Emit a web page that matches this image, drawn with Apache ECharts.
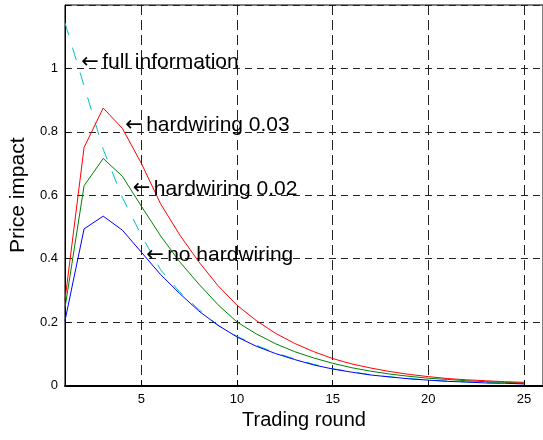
<!DOCTYPE html>
<html>
<head>
<meta charset="utf-8">
<script src="https://cdn.jsdelivr.net/npm/echarts@6/dist/echarts.min.js"></script>
<style>
  html, body { margin: 0; padding: 0; background: #fff; }
  #chart { width: 543px; height: 440px; }
</style>
</head>
<body>
<div id="chart"></div>
<script>
// Trading rounds on the horizontal axis
const rounds = [1, 2, 3, 4, 5, 6, 7, 8, 9, 10, 11, 12, 13, 14, 15, 16, 17, 18, 19, 20, 21, 22, 23, 24, 25];

// Price impact per round for each scenario
const noHardwiring = [0.204, 0.494, 0.534, 0.490, 0.420, 0.350, 0.290, 0.235, 0.190, 0.153, 0.124, 0.101, 0.082, 0.065, 0.052, 0.042, 0.033, 0.027, 0.021, 0.017, 0.013, 0.011, 0.008, 0.007, 0.005];
const hardwiring02 = [0.244, 0.630, 0.716, 0.660, 0.565, 0.472, 0.390, 0.320, 0.255, 0.200, 0.163, 0.132, 0.107, 0.087, 0.070, 0.056, 0.045, 0.036, 0.029, 0.023, 0.019, 0.015, 0.012, 0.010, 0.008];
const hardwiring03 = [0.269, 0.751, 0.875, 0.811, 0.700, 0.573, 0.475, 0.390, 0.315, 0.253, 0.205, 0.165, 0.133, 0.107, 0.085, 0.068, 0.055, 0.044, 0.035, 0.028, 0.022, 0.018, 0.015, 0.012, 0.010];
const fullInformation = [1.144, 0.945, 0.745, 0.593, 0.473, 0.365, 0.295, 0.240, 0.190, 0.155, 0.127, 0.103, 0.084, 0.067, 0.053, 0.043, 0.034, 0.027, 0.022, 0.017, 0.014, 0.011, 0.009, 0.007, 0.006];

// Tick values
const xTicks = [5, 10, 15, 20, 25];
const yTicks = [0, 0.2, 0.4, 0.6, 0.8, 1];

// Callout texts and the points their arrows point at
const calloutTexts = ['full information', 'hardwiring 0.03', 'hardwiring 0.02', 'no hardwiring'];
const calloutX = [1.85, 4.15, 4.55, 5.25];
const calloutY = [1.02, 0.82, 0.62, 0.41];

const FONT = 'Liberation Sans, Arial, Helvetica, sans-serif';
const pair = (xs, ys) => xs.map((x, i) => [x, ys[i]]);

const lineSeries = (name, values, color, dash) => ({
  name,
  type: 'line',
  data: pair(rounds, values),
  showSymbol: false,
  symbol: 'none',
  smooth: false,
  lineStyle: { color, width: 1, type: dash || 'solid' },
  emphasis: { disabled: true },
  animation: false,
  z: 3
});

const chart = echarts.init(document.getElementById('chart'), null, { renderer: 'canvas' });

chart.setOption({
  animation: false,
  backgroundColor: '#ffffff',
  grid: {
    left: 63, top: 5, right: -3, bottom: 54.5,
    show: true, borderColor: '#000', borderWidth: 1, backgroundColor: 'transparent'
  },
  xAxis: {
    type: 'value',
    min: 1, max: 26,
    name: 'Trading round',
    nameLocation: 'middle',
    nameGap: 24,
    nameTextStyle: { fontFamily: FONT, fontSize: 20, color: '#000' },
    axisLine: { show: true, onZero: false, lineStyle: { color: '#000', width: 2 } },
    axisTick: { show: true, inside: true, length: 5, customValues: xTicks, lineStyle: { color: '#000' } },
    axisLabel: { customValues: xTicks, fontFamily: FONT, fontSize: 13, color: '#000', margin: 7 },
    splitLine: { show: true, lineStyle: { color: '#222', width: 1, type: [10, 5] } }
  },
  yAxis: {
    type: 'value',
    min: 0, max: 1.2, interval: 0.2,
    name: 'Price impact',
    nameLocation: 'middle',
    nameGap: 31,
    nameTextStyle: { fontFamily: FONT, fontSize: 21, color: '#000' },
    axisLine: { show: true, onZero: false, lineStyle: { color: '#000', width: 1 } },
    axisTick: { show: true, inside: true, length: 5, lineStyle: { color: '#000' } },
    axisLabel: {
      fontFamily: FONT, fontSize: 13, color: '#000', margin: 7,
      formatter: v => (yTicks.some(t => Math.abs(t - v) < 1e-9) ? String(Math.round(v * 10) / 10) : '')
    },
    splitLine: { show: true, lineStyle: { color: '#222', width: 1, type: [7, 5] } }
  },
  series: [
    lineSeries('full information', fullInformation, '#00bfbf', [13, 13]),
    lineSeries('no hardwiring', noHardwiring, '#0000ff'),
    lineSeries('hardwiring 0.02', hardwiring02, '#008000'),
    lineSeries('hardwiring 0.03', hardwiring03, '#ff0000'),
    {
      name: 'callouts',
      type: 'scatter',
      data: calloutTexts.map((t, i) => ({ value: [calloutX[i], calloutY[i]], name: t })),
      symbolSize: 0,
      silent: true,
      z: 5,
      itemStyle: { opacity: 1 },
      label: {
        show: true,
        position: 'right',
        distance: 0,
        formatter: p => '{arrow|\u2190} {txt|' + p.name + '}',
        color: '#000',
        opacity: 1,
        rich: {
          arrow: { fontFamily: 'DejaVu Sans', fontSize: 21, color: '#000' },
          txt: { fontFamily: FONT, fontSize: 21, color: '#000' }
        }
      }
    }
  ]
});
</script>
</body>
</html>
